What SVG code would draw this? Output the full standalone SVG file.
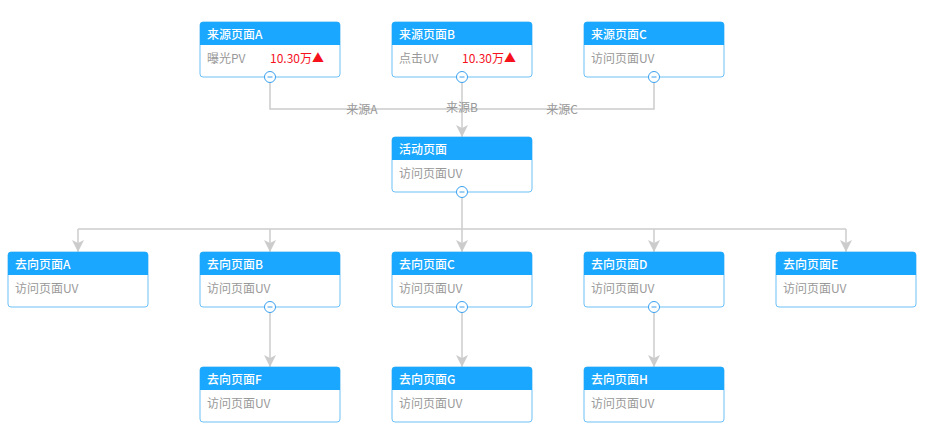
<svg xmlns="http://www.w3.org/2000/svg" width="931" height="448" viewBox="0 0 931 448">
<defs>
<style>
.box{fill:#fff;stroke:#6cc0f5;stroke-width:1}
.hd{fill:#1aa7ff}
.t{font-family:"Noto Sans CJK SC","Noto Sans",sans-serif;font-size:12px}
.ht{fill:#fff;font-weight:500}
.bt{fill:#999}
.rv{fill:#f5121d}
.ln{fill:none;stroke:#cccccc;stroke-width:1.5}
.lb{fill:#999;font-family:"Noto Sans CJK SC","Noto Sans",sans-serif;font-size:12px;text-anchor:middle}
.cc{fill:#fff;stroke:#3aa0ef;stroke-width:1}
.cm{stroke:#3aa0ef;stroke-width:1}
</style>
<marker id="ar" viewBox="0 0 12 12" refX="12" refY="6" markerWidth="12" markerHeight="12" markerUnits="userSpaceOnUse" orient="auto">
<path d="M0,0 L3,6 L0,12 L12,6 Z" fill="#cccccc"/>
</marker>
<symbol id="col" overflow="visible">
<circle class="cc" cx="0" cy="0" r="5.5"/>
<line class="cm" x1="-2.5" y1="0" x2="2.5" y2="0"/>
</symbol>
</defs>
<rect width="931" height="448" fill="#fff"/>
<g id="connectors">
<path class="ln" d="M270,77 V109 H654 V77"/>
<path class="ln" d="M462,77 V137" marker-end="url(#ar)"/>
<path class="ln" d="M462,192 V229"/>
<path class="ln" d="M78,229 H846"/>
<path class="ln" d="M78,229 V252" marker-end="url(#ar)"/>
<path class="ln" d="M270,229 V252" marker-end="url(#ar)"/>
<path class="ln" d="M462,229 V252" marker-end="url(#ar)"/>
<path class="ln" d="M654,229 V252" marker-end="url(#ar)"/>
<path class="ln" d="M846,229 V252" marker-end="url(#ar)"/>
<path class="ln" d="M270,307 V367" marker-end="url(#ar)"/>
<path class="ln" d="M462,307 V367" marker-end="url(#ar)"/>
<path class="ln" d="M654,307 V367" marker-end="url(#ar)"/>
<text class="lb" x="362" y="114">来源A</text>
<text class="lb" x="462" y="112">来源B</text>
<text class="lb" x="562" y="114">来源C</text>
</g>
<g id="srcA">
<rect class="box" x="200" y="22" width="140" height="55" rx="3"/>
<path class="hd" d="M203,22 H337 A3,3 0 0 1 340,25 V45 H200 V25 A3,3 0 0 1 203,22 Z"/>
<text class="t ht" x="207" y="39">来源页面A</text>
<text class="t bt" x="207" y="63">曝光PV</text>
<text class="t rv" x="270" y="63">10.30万▲</text>
<use href="#col" x="270" y="77"/>
</g>
<g id="srcB">
<rect class="box" x="392" y="22" width="140" height="55" rx="3"/>
<path class="hd" d="M395,22 H529 A3,3 0 0 1 532,25 V45 H392 V25 A3,3 0 0 1 395,22 Z"/>
<text class="t ht" x="399" y="39">来源页面B</text>
<text class="t bt" x="399" y="63">点击UV</text>
<text class="t rv" x="462" y="63">10.30万▲</text>
<use href="#col" x="462" y="77"/>
</g>
<g id="srcC">
<rect class="box" x="584" y="22" width="140" height="55" rx="3"/>
<path class="hd" d="M587,22 H721 A3,3 0 0 1 724,25 V45 H584 V25 A3,3 0 0 1 587,22 Z"/>
<text class="t ht" x="591" y="39">来源页面C</text>
<text class="t bt" x="591" y="63">访问页面UV</text>
<use href="#col" x="654" y="77"/>
</g>
<g id="act">
<rect class="box" x="392" y="137" width="140" height="55" rx="3"/>
<path class="hd" d="M395,137 H529 A3,3 0 0 1 532,140 V160 H392 V140 A3,3 0 0 1 395,137 Z"/>
<text class="t ht" x="399" y="154">活动页面</text>
<text class="t bt" x="399" y="178">访问页面UV</text>
<use href="#col" x="462" y="192"/>
</g>
<g id="dstA">
<rect class="box" x="8" y="252" width="140" height="55" rx="3"/>
<path class="hd" d="M11,252 H145 A3,3 0 0 1 148,255 V275 H8 V255 A3,3 0 0 1 11,252 Z"/>
<text class="t ht" x="15" y="269">去向页面A</text>
<text class="t bt" x="15" y="293">访问页面UV</text>
</g>
<g id="dstB">
<rect class="box" x="200" y="252" width="140" height="55" rx="3"/>
<path class="hd" d="M203,252 H337 A3,3 0 0 1 340,255 V275 H200 V255 A3,3 0 0 1 203,252 Z"/>
<text class="t ht" x="207" y="269">去向页面B</text>
<text class="t bt" x="207" y="293">访问页面UV</text>
<use href="#col" x="270" y="307"/>
</g>
<g id="dstC">
<rect class="box" x="392" y="252" width="140" height="55" rx="3"/>
<path class="hd" d="M395,252 H529 A3,3 0 0 1 532,255 V275 H392 V255 A3,3 0 0 1 395,252 Z"/>
<text class="t ht" x="399" y="269">去向页面C</text>
<text class="t bt" x="399" y="293">访问页面UV</text>
<use href="#col" x="462" y="307"/>
</g>
<g id="dstD">
<rect class="box" x="584" y="252" width="140" height="55" rx="3"/>
<path class="hd" d="M587,252 H721 A3,3 0 0 1 724,255 V275 H584 V255 A3,3 0 0 1 587,252 Z"/>
<text class="t ht" x="591" y="269">去向页面D</text>
<text class="t bt" x="591" y="293">访问页面UV</text>
<use href="#col" x="654" y="307"/>
</g>
<g id="dstE">
<rect class="box" x="776" y="252" width="140" height="55" rx="3"/>
<path class="hd" d="M779,252 H913 A3,3 0 0 1 916,255 V275 H776 V255 A3,3 0 0 1 779,252 Z"/>
<text class="t ht" x="783" y="269">去向页面E</text>
<text class="t bt" x="783" y="293">访问页面UV</text>
</g>
<g id="dstF">
<rect class="box" x="200" y="367" width="140" height="55" rx="3"/>
<path class="hd" d="M203,367 H337 A3,3 0 0 1 340,370 V390 H200 V370 A3,3 0 0 1 203,367 Z"/>
<text class="t ht" x="207" y="384">去向页面F</text>
<text class="t bt" x="207" y="408">访问页面UV</text>
</g>
<g id="dstG">
<rect class="box" x="392" y="367" width="140" height="55" rx="3"/>
<path class="hd" d="M395,367 H529 A3,3 0 0 1 532,370 V390 H392 V370 A3,3 0 0 1 395,367 Z"/>
<text class="t ht" x="399" y="384">去向页面G</text>
<text class="t bt" x="399" y="408">访问页面UV</text>
</g>
<g id="dstH">
<rect class="box" x="584" y="367" width="140" height="55" rx="3"/>
<path class="hd" d="M587,367 H721 A3,3 0 0 1 724,370 V390 H584 V370 A3,3 0 0 1 587,367 Z"/>
<text class="t ht" x="591" y="384">去向页面H</text>
<text class="t bt" x="591" y="408">访问页面UV</text>
</g>
</svg>
